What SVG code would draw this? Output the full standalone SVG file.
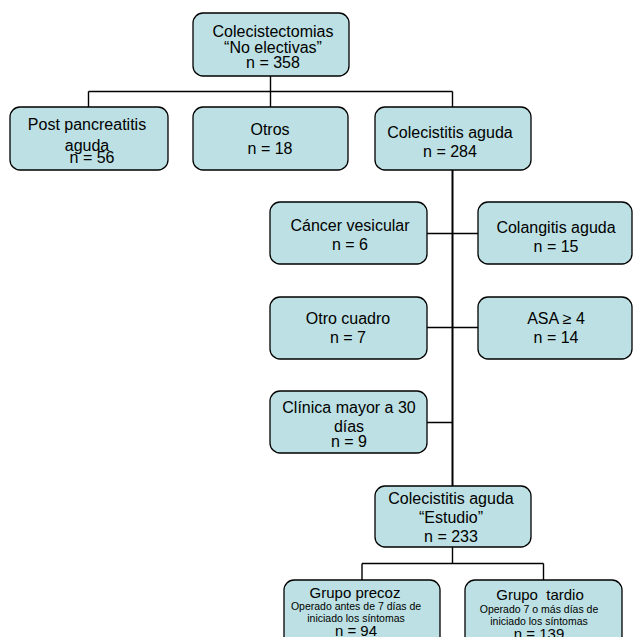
<svg xmlns="http://www.w3.org/2000/svg" width="633" height="637" viewBox="0 0 633 637">
<style>
.b{fill:#bce0e3;stroke:#000;stroke-width:1.3}
text{font-family:"Liberation Sans",Arial,sans-serif;font-size:16px;fill:#000;text-anchor:middle}
.s{font-size:10.5px}
.g{font-size:15px}
.c{stroke:#000;stroke-width:1.4;fill:none}
.t{stroke:#000;stroke-width:2;fill:none}
</style>
<rect width="633" height="637" fill="#fff"/>
<g id="connectors">
<path class="c" d="M270.5 76V91.5M88.5 91.5H452.5M88.5 91.5V107M270.5 91.5V107M452.5 91.5V107"/>
<path class="t" d="M452.5 170V486"/>
<path class="c" d="M427 233.5H478M427 327.5H478M427 422.5H452.5"/>
<path class="c" d="M452.5 547V563.5M362 563.5H543.5M362 563.5V580M543.5 563.5V580"/>
</g>
<g id="n_top"><rect class="b" x="193" y="13" width="156" height="63" rx="10"/>
<text x="273" y="37">Colecistectomias</text><text x="273" y="52.5">“No electivas”</text><text x="273" y="68">n = 358</text></g>
<g id="n_post"><rect class="b" x="10" y="107" width="158" height="63" rx="10"/>
<text x="87" y="130">Post pancreatitis</text><text x="87" y="150.5">aguda</text><text x="92" y="163">n = 56</text></g>
<g id="n_otros"><rect class="b" x="193" y="107" width="155" height="63" rx="10"/>
<text x="270" y="135">Otros</text><text x="270" y="153.5">n = 18</text></g>
<g id="n_col"><rect class="b" x="375" y="107" width="156" height="63" rx="10"/>
<text x="450" y="138">Colecistitis aguda</text><text x="450" y="156.5">n = 284</text></g>
<g id="n_cancer"><rect class="b" x="270" y="202" width="157" height="62" rx="10"/>
<text x="350" y="231">Cáncer vesicular</text><text x="350" y="249.5">n = 6</text></g>
<g id="n_colang"><rect class="b" x="478" y="202" width="154" height="62" rx="10"/>
<text x="556" y="233">Colangitis aguda</text><text x="556" y="251.5">n = 15</text></g>
<g id="n_otro"><rect class="b" x="270" y="297" width="157" height="62" rx="10"/>
<text x="348" y="324">Otro cuadro</text><text x="348" y="343">n = 7</text></g>
<g id="n_asa"><rect class="b" x="478" y="297" width="154" height="62" rx="10"/>
<text x="556" y="324">ASA ≥ 4</text><text x="556" y="343">n = 14</text></g>
<g id="n_clinica"><rect class="b" x="270" y="391" width="157" height="62" rx="10"/>
<text x="349" y="413">Clínica mayor a 30</text><text x="349" y="431.5">días</text><text x="349" y="446.5">n = 9</text></g>
<g id="n_estudio"><rect class="b" x="375" y="486" width="156" height="61" rx="10"/>
<text x="451" y="504">Colecistitis aguda</text><text x="451" y="523">“Estudio”</text><text x="451" y="542">n = 233</text></g>
<g id="n_precoz"><rect class="b" x="284" y="580" width="156" height="70" rx="10"/>
<text class="g" x="355" y="598">Grupo precoz</text><text class="s" x="356" y="609.5">Operado antes de 7 días de</text><text class="s" x="356" y="622">iniciado los síntomas</text><text class="g" x="356" y="636">n = 94</text></g>
<g id="n_tardio"><rect class="b" x="465" y="580" width="157" height="70" rx="10"/>
<text class="g" x="540" y="600" xml:space="preserve">Grupo  tardio</text><text class="s" x="539" y="613">Operado 7 o más días de</text><text class="s" x="539" y="625">iniciado los síntomas</text><text class="g" x="539" y="639">n = 139</text></g>
</svg>
